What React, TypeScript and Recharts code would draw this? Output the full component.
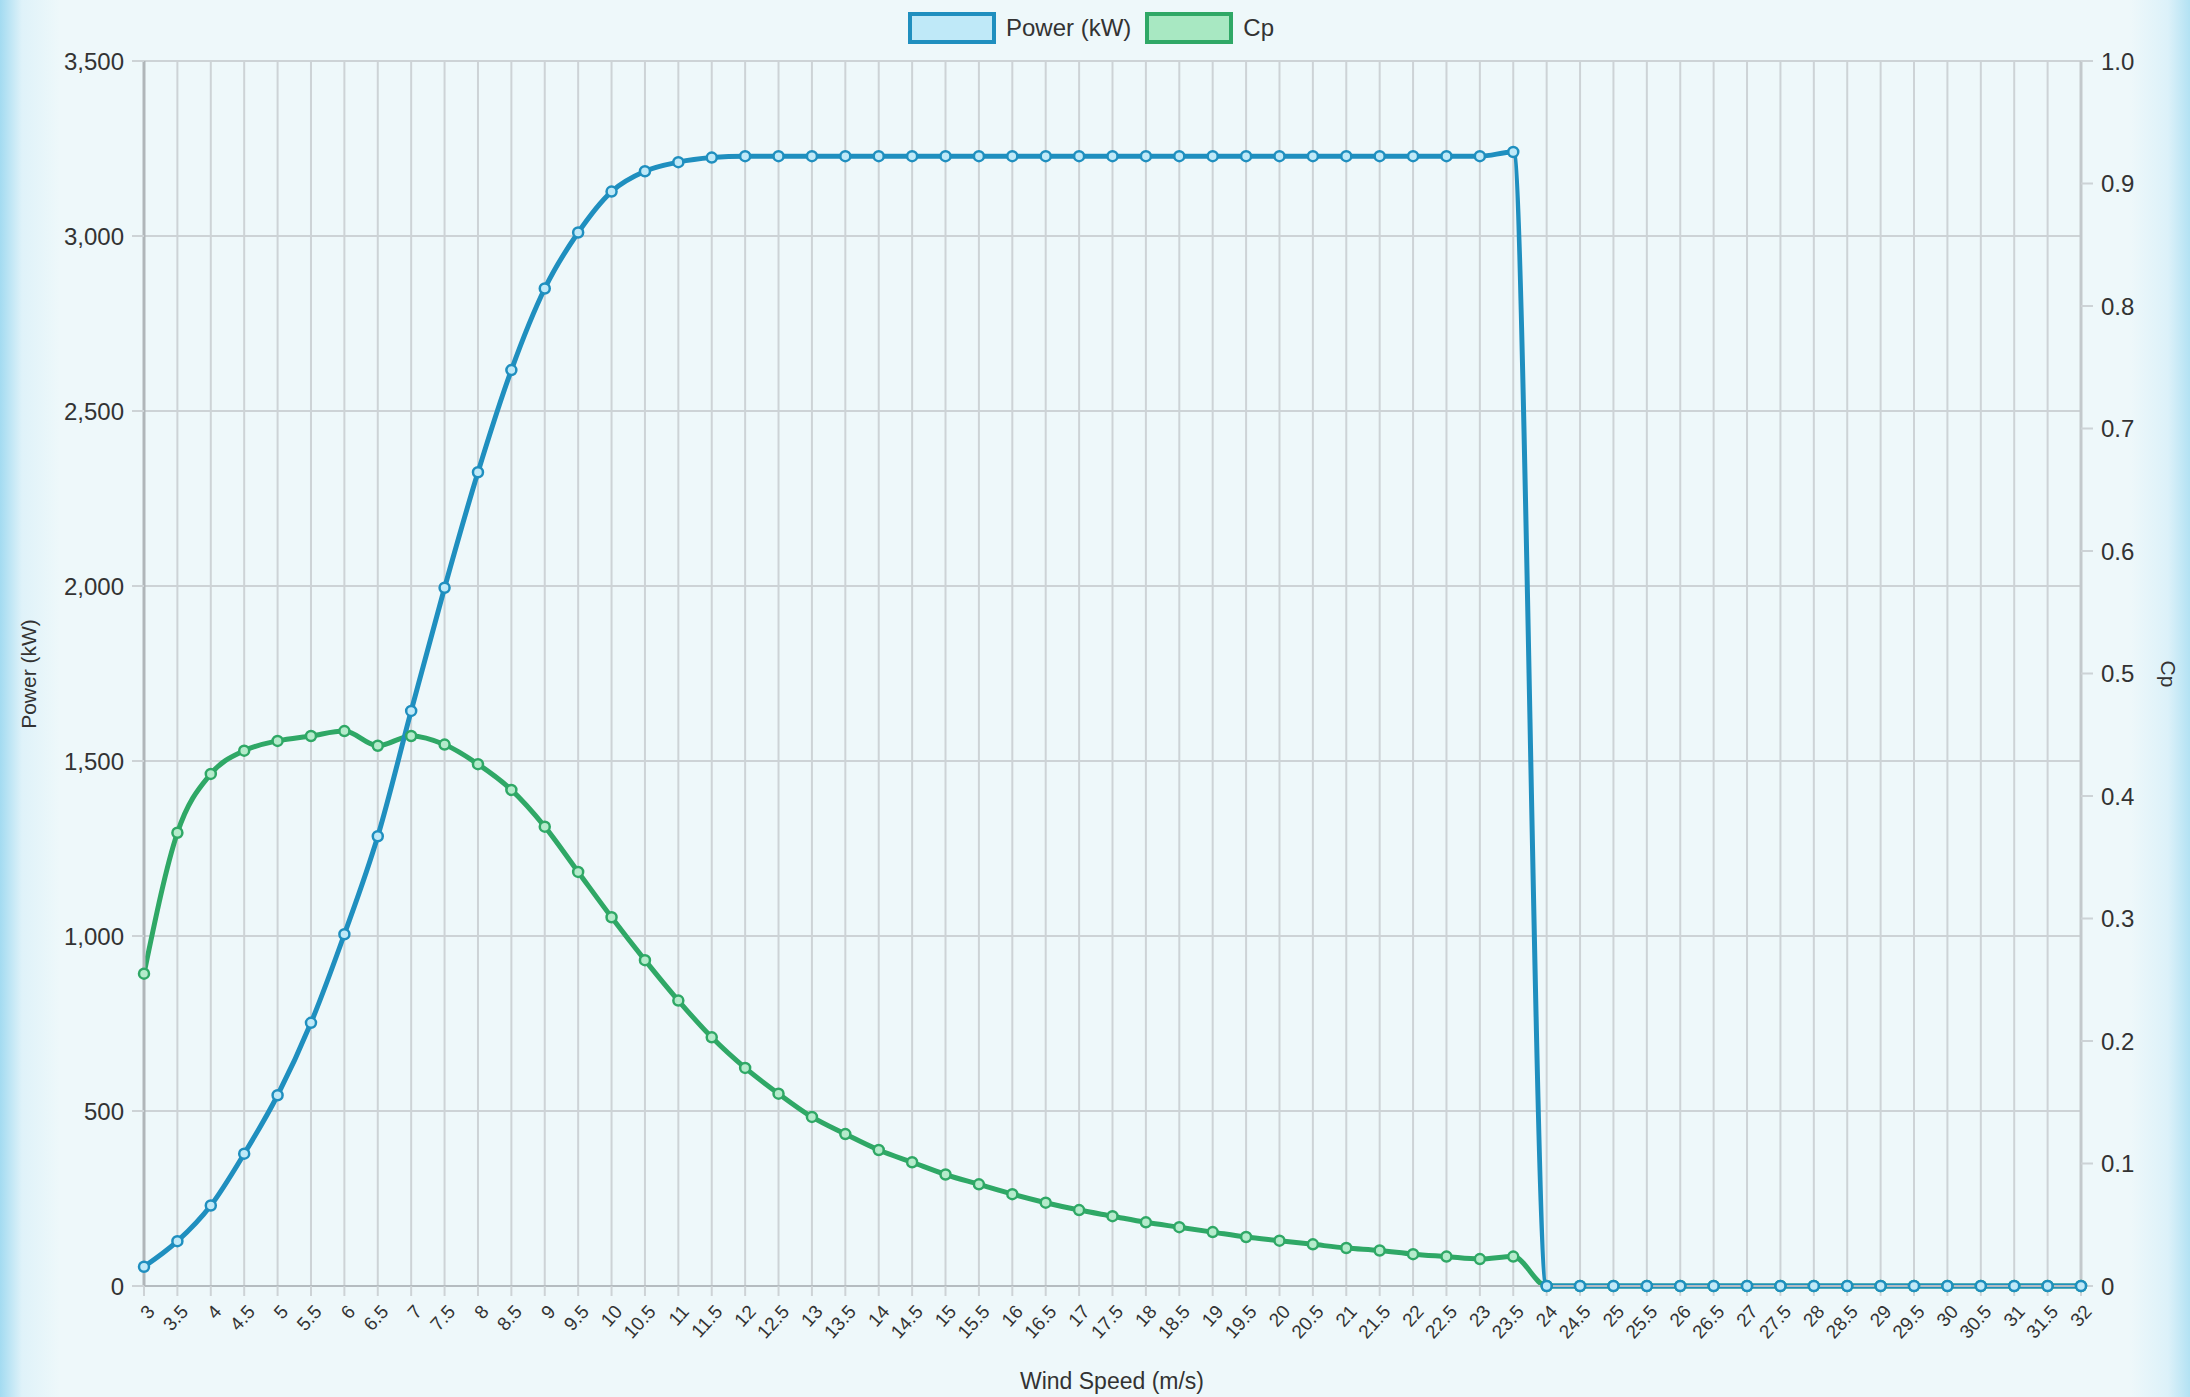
import React from "react";
import {
  LineChart,
  Line,
  XAxis,
  YAxis,
  CartesianGrid,
} from "recharts";

const windSpeeds = [
  "3", "3.5", "4", "4.5", "5", "5.5", "6", "6.5", "7", "7.5",
  "8", "8.5", "9", "9.5", "10", "10.5", "11", "11.5", "12", "12.5",
  "13", "13.5", "14", "14.5", "15", "15.5", "16", "16.5", "17", "17.5",
  "18", "18.5", "19", "19.5", "20", "20.5", "21", "21.5", "22", "22.5",
  "23", "23.5", "24", "24.5", "25", "25.5", "26", "26.5", "27", "27.5",
  "28", "28.5", "29", "29.5", "30", "30.5", "31", "31.5", "32",
];

const powerKw = [
  55, 128, 230, 378, 545, 752, 1005, 1285, 1643, 1995,
  2325, 2617, 2850, 3010, 3127, 3185, 3211, 3224, 3228, 3228,
  3228, 3228, 3228, 3228, 3228, 3228, 3228, 3228, 3228, 3228,
  3228, 3228, 3228, 3228, 3228, 3228, 3228, 3228, 3228, 3228,
  3228, 3240, 0, 0, 0, 0, 0, 0, 0, 0,
  0, 0, 0, 0, 0, 0, 0, 0, 0,
];

const cpValues = [
  0.255, 0.37, 0.418, 0.437, 0.445, 0.449, 0.453, 0.441, 0.449, 0.442,
  0.426, 0.405, 0.375, 0.338, 0.301, 0.266, 0.233, 0.203, 0.178, 0.157,
  0.138, 0.124, 0.111, 0.101, 0.091, 0.083, 0.075, 0.068, 0.062, 0.057,
  0.052, 0.048, 0.044, 0.04, 0.037, 0.034, 0.031, 0.029, 0.026, 0.024,
  0.022, 0.024, 0, 0, 0, 0, 0, 0, 0, 0,
  0, 0, 0, 0, 0, 0, 0, 0, 0,
];

const powerTicks = [0, 500, 1000, 1500, 2000, 2500, 3000, 3500];
const cpTicks = [0, 0.1, 0.2, 0.3, 0.4, 0.5, 0.6, 0.7, 0.8, 0.9, 1.0];

const data = windSpeeds.map((ws, i) => ({
  ws,
  power: powerKw[i],
  cp: cpValues[i],
}));

const FONT = '"Liberation Sans", Arial, Helvetica, sans-serif';
const BLUE = "#1f8fbf";
const GREEN = "#2fa866";
const GRID = "#cdd3d6";
const TEXT = "#333333";

const XTick = (props: any) => {
  const { x, y, payload } = props;
  return (
    <g transform={`translate(${x + 7},${y + 10})`}>
      <text
        x={0}
        y={0}
        textAnchor="end"
        dominantBaseline="central"
        transform="rotate(-48)"
        fontSize={19}
        fontFamily={FONT}
        fill={TEXT}
      >
        {payload.value}
      </text>
    </g>
  );
};

export default function App() {
  return (
    <div
      style={{
        position: "absolute",
        left: 0,
        top: 0,
        width: 2190,
        height: 1397,
        fontFamily: FONT,
        background:
          "linear-gradient(to right, #a3dbf1 0px, #dff2f9 22px, #eef8fa 60px, #eef8fa 2130px, #dcf1f9 2168px, #b3e2f3 2190px)",
      }}
    >
      {/* legend */}
      <div
        style={{
          position: "absolute",
          top: 12,
          left: 908,
          display: "flex",
          alignItems: "center",
          fontSize: 24,
          color: TEXT,
        }}
      >
        <div
          style={{
            width: 80,
            height: 24,
            border: `4px solid ${BLUE}`,
            background: "#bfe9f8",
            marginRight: 10,
          }}
        />
        <span style={{ marginRight: 14 }}>Power (kW)</span>
        <div
          style={{
            width: 80,
            height: 24,
            border: `4px solid ${GREEN}`,
            background: "#a8e8c2",
            marginRight: 10,
          }}
        />
        <span>Cp</span>
      </div>

      <LineChart
        width={2190}
        height={1397}
        data={data}
        margin={{ top: 61, right: 0, bottom: 0, left: 0 }}
      >
        <CartesianGrid yAxisId="left" stroke={GRID} strokeWidth={2} />
        <XAxis
          dataKey="ws"
          interval={0}
          height={111}
          tickSize={10}
          tickMargin={2}
          tick={<XTick />}
          axisLine={{ stroke: "#b5bcc0", strokeWidth: 2 }}
          tickLine={{ stroke: GRID, strokeWidth: 2 }}
          label={{
            content: () => (
              <text
                x={1112}
                y={1381}
                textAnchor="middle"
                dominantBaseline="central"
                fontSize={23}
                fontFamily={FONT}
                fill={TEXT}
              >
                Wind Speed (m/s)
              </text>
            ),
          }}
        />
        <YAxis
          yAxisId="left"
          domain={[0, 3500]}
          ticks={powerTicks}
          width={144}
          tickSize={12}
          tickMargin={8}
          tickFormatter={(v: number) => v.toLocaleString("en-US")}
          tick={{ fontSize: 24, fill: TEXT, fontFamily: FONT }}
          axisLine={{ stroke: "#b0b6b9", strokeWidth: 3 }}
          tickLine={{ stroke: GRID, strokeWidth: 2 }}
          label={{
            content: () => (
              <text
                x={28}
                y={674}
                transform="rotate(-90 28 674)"
                textAnchor="middle"
                dominantBaseline="central"
                fontSize={21}
                fontFamily={FONT}
                fill={TEXT}
              >
                Power (kW)
              </text>
            ),
          }}
        />
        <YAxis
          yAxisId="right"
          orientation="right"
          domain={[0, 1]}
          ticks={cpTicks}
          width={109}
          tickSize={12}
          tickMargin={8}
          tickFormatter={(v: number) => (v === 0 ? "0" : v.toFixed(1))}
          tick={{ fontSize: 24, fill: TEXT, fontFamily: FONT }}
          axisLine={{ stroke: "#c3c9cc", strokeWidth: 3 }}
          tickLine={{ stroke: GRID, strokeWidth: 2 }}
          label={{
            content: () => (
              <text
                x={2168}
                y={674}
                transform="rotate(90 2168 674)"
                textAnchor="middle"
                dominantBaseline="central"
                fontSize={21}
                fontFamily={FONT}
                fill={TEXT}
              >
                Cp
              </text>
            ),
          }}
        />
        <Line
          yAxisId="right"
          type="monotone"
          dataKey="cp"
          stroke={GREEN}
          strokeWidth={5}
          dot={{ r: 5, fill: "#b4ebcb", stroke: GREEN, strokeWidth: 2.5 }}
          activeDot={false}
          isAnimationActive={false}
        />
        <Line
          yAxisId="left"
          type="monotone"
          dataKey="power"
          stroke={BLUE}
          strokeWidth={5}
          dot={{ r: 5, fill: "#bfe9f8", stroke: BLUE, strokeWidth: 2.5 }}
          activeDot={false}
          isAnimationActive={false}
        />
      </LineChart>
    </div>
  );
}
